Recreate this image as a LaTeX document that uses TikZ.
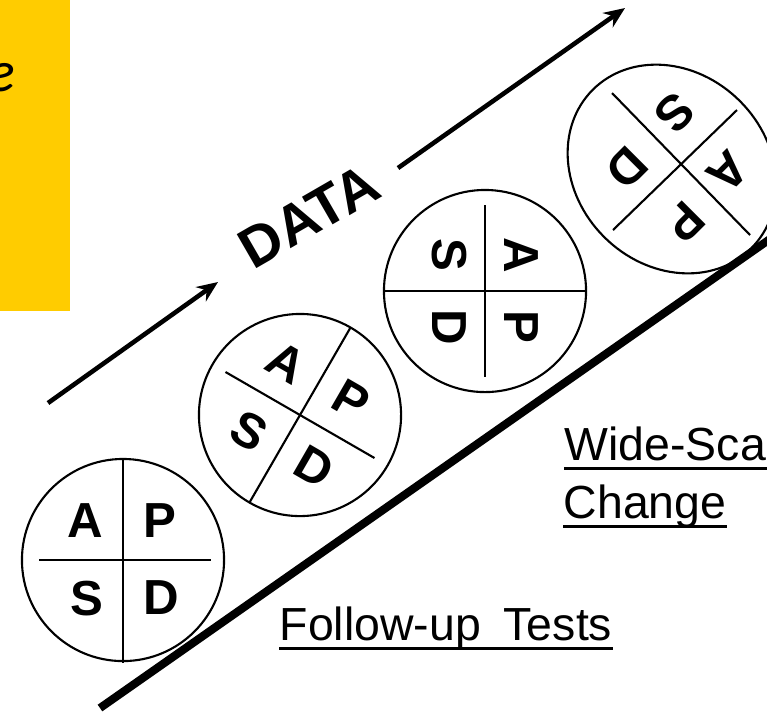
\documentclass[tikz,border=0pt]{standalone}
\usepackage{fontspec}
\setmainfont{Liberation Sans}
\newfontfamily\calloutfont{Carlito}
\usetikzlibrary{arrows.meta,shapes.geometric}

\definecolor{calloutyellow}{HTML}{FFCC00}

\tikzset{
  wheel/.style={draw, circle, line width=0.6pt, minimum size=2.02cm, inner sep=0pt},
  ovalwheel/.style={draw, ellipse, line width=0.6pt, minimum width=1.92cm, minimum height=2.24cm, inner sep=0pt},
  divider/.style={line width=0.6pt},
  letter/.style={inner sep=0pt, font=\bfseries\fontsize{14pt}{14pt}\selectfont},
  datalabel/.style={inner sep=0pt, font=\bfseries\fontsize{16.2pt}{16.2pt}\selectfont},
  caption/.style={inner sep=0pt, anchor=base west, font=\fontsize{13.2pt}{15pt}\selectfont},
  uline/.style={line width=0.85pt},
  trend/.style={line width=1.3pt, -{Stealth[length=6pt, width=5pt, inset=2pt]}},
  ramp/.style={line width=2.3pt},
}

\begin{document}
\begin{tikzpicture}[x=0.01cm, y=-0.01cm]
\useasboundingbox (0,0) rectangle (767,714);
\clip (0,0) rectangle (767,714);

% callout box at the left edge
\fill[calloutyellow] (0,0) rectangle (70,311);
\node[inner sep=0pt, anchor=base east, font=\calloutfont\itshape\fontsize{16.5pt}{18pt}\selectfont] (callout) at (16,91) {e};

% the ramp the cycles climb
\coordinate (rampLow) at (100,708);
\coordinate (rampHigh) at (800,218);
\draw[ramp] (rampLow) -- (rampHigh);

% data arrows
\coordinate (lowStart) at (48,403);
\coordinate (lowEnd) at (218,282);
\draw[trend] (lowStart) -- (lowEnd);
\coordinate (highStart) at (398,168);
\coordinate (highEnd) at (625,8);
\draw[trend] (highStart) -- (highEnd);
\node[datalabel, rotate=30] (data) at (309,216) {DATA};

% PDSA wheel 1
\begin{scope}[shift={(123,560)}, transform shape]
  \node[wheel] (w1) at (0,0) {};
  \draw[divider] (0,-101) -- (0,103);
  \draw[divider] (-84,0) -- (88,0);
  \node[letter] (w1a) at (-38,-39) {A};
  \node[letter] (w1p) at (37,-39) {P};
  \node[letter] (w1s) at (-36,39) {S};
  \node[letter] (w1d) at (38,38) {D};
\end{scope}

% PDSA wheel 2
\begin{scope}[shift={(300,415)}, rotate=-30, transform shape]
  \node[wheel] (w2) at (0,0) {};
  \draw[divider] (0,-101) -- (0,101);
  \draw[divider] (-86,0) -- (86,0);
  \node[letter] (w2a) at (-38,-39) {A};
  \node[letter] (w2p) at (37,-39) {P};
  \node[letter] (w2s) at (-36,39) {S};
  \node[letter] (w2d) at (38,38) {D};
\end{scope}

% PDSA wheel 3
\begin{scope}[shift={(485,291)}, rotate=-90, transform shape]
  \node[wheel] (w3) at (0,0) {};
  \draw[divider] (0,-101) -- (0,101);
  \draw[divider] (-86,0) -- (86,0);
  \node[letter] (w3a) at (-36,-36) {A};
  \node[letter] (w3p) at (36,-36) {P};
  \node[letter] (w3s) at (-36,36) {S};
  \node[letter] (w3d) at (36,36) {D};
\end{scope}

% PDSA wheel 4 (slightly oval outline)
\begin{scope}[shift={(672,169)}, rotate=-135, transform shape]
  \node[ovalwheel] (w4) at (0,0) {};
\end{scope}
\draw[divider] (612,93) -- (750,235);
\draw[divider] (737,110) -- (613,230);
\node[letter, rotate=-135] (w4a) at (728,172) {A};
\node[letter, rotate=-135] (w4p) at (685,222) {P};
\node[letter, rotate=-135] (w4s) at (675,113) {S};
\node[letter, rotate=-135] (w4d) at (627,168) {D};

% captions
\node[caption] (follow) at (279,640) {Follow-up\hspace{6.5pt}Tests};
\draw[uline] ([yshift=-2.3pt]follow.base west) -- ([yshift=-2.3pt]follow.base east);
\node[caption] (wide) at (564,460) {Wide-Scale};
\draw[uline] ([yshift=-2.3pt]wide.base west) -- ([yshift=-2.3pt]wide.base east);
\node[caption] (change) at (563,518) {Change};
\draw[uline] ([yshift=-2.4pt]change.base west) -- ([yshift=-2.4pt]change.base east);
\end{tikzpicture}
\end{document}
